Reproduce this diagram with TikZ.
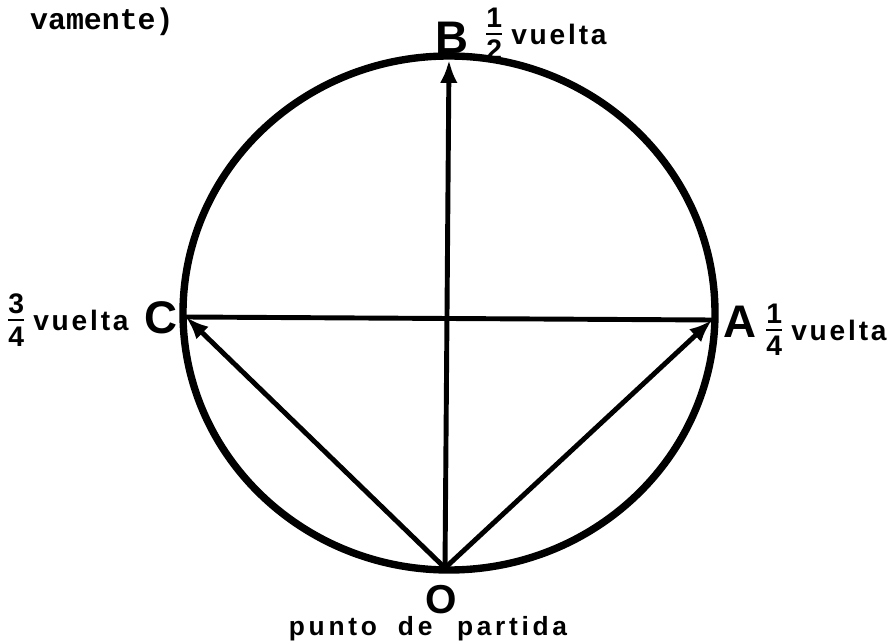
\documentclass[tikz,border=0pt]{standalone}
\usepackage{amsmath}
\usepackage{fontspec}
\setmainfont{Liberation Sans}
\setmonofont{Liberation Mono}
\usetikzlibrary{arrows.meta,positioning}
\newcommand{\turnfrac}[2]{{\fontsize{23}{23}\selectfont$\frac{\textbf{#1}}{\textbf{#2}}$}}

\begin{document}
\begin{tikzpicture}[x=0.02cm, y=-0.02cm,
    rim/.style={line width=4.2pt},
    ray/.style={line width=2.8pt},
    arrow/.style={ray, -{Latex[length=13pt,width=10pt]}},
    point/.style={font=\fontsize{26}{26}\selectfont\bfseries, inner sep=0pt},
    turn/.style={font=\fontsize{16}{16}\selectfont\bfseries\addfontfeature{LetterSpace=10},
                 inner sep=0pt},
  ]
  \useasboundingbox (0,0) rectangle (894,642);
  %% heading fragment
  \node[font=\fontsize{17}{17}\selectfont\ttfamily\bfseries, anchor=west]
        (head) at (24,22) {vamente)};
  %% circle
  \coordinate (M) at (449,313);
  \draw[rim] (M) ellipse[x radius=266, y radius=257];
  %% points on the circle
  \coordinate (O) at (445,568);
  \coordinate (A) at (712,320);
  \coordinate (B) at (449,60);
  \coordinate (C) at (186,317);
  \draw[ray] (C) -- (A);
  \draw[arrow] (O) -- (A);
  \draw[arrow] (O) -- (B);
  \draw[arrow] (O) -- (C);
  %% letters
  \node[point] (lblA) at (740,322) {A};
  \node[point] (lblB) at (452,38) {B};
  \node[point] (lblC) at (161,318) {C};
  \node[point, font=\fontsize{23}{23}\selectfont\bfseries, anchor=base]
        (lblO) at (441,613) {O};
  \node[turn, font=\fontsize{15}{15}\selectfont\bfseries\addfontfeature{LetterSpace=14},
        anchor=base] (start) at (428,635) {punto\hspace{12pt}de\hspace{14pt}partida};
  %% fractions of a turn
  \node[turn, anchor=west] (tA) at (764,330) {\turnfrac{1}{4}\hspace{4pt}vuelta};
  \node[turn, anchor=west] (tB) at (484,34) {\turnfrac{1}{2}\hspace{4pt}vuelta};
  \node[turn, anchor=west] (tC) at (6,320) {\turnfrac{3}{4}\hspace{4pt}vuelta};
\end{tikzpicture}
\end{document}
